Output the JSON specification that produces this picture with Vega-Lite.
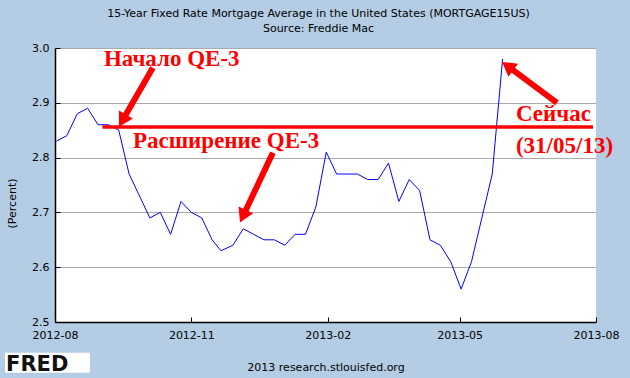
{
  "$schema": "https://vega.github.io/schema/vega-lite/v6.json",
  "width": 541,
  "height": 274,
  "autosize": "none",
  "padding": {"left": 55, "top": 48, "right": 34, "bottom": 56},
  "background": "#B4CDE4",
  "config": {"view": {"fill": "white", "stroke": null}, "font": "DejaVu Sans"},
  "title": {
    "text": ["15-Year Fixed Rate Mortgage Average in the United States (MORTGAGE15US)", "Source: Freddie Mac"],
    "fontSize": 11, "fontWeight": "normal", "font": "DejaVu Sans", "color": "#000000",
    "lineHeight": 15, "anchor": "middle", "frame": "group", "offset": 8, "dx": -7
  },
  "datasets": {
    "series": [
      {"date": "2012-08-02", "rate": 2.83},
      {"date": "2012-08-09", "rate": 2.84},
      {"date": "2012-08-16", "rate": 2.88},
      {"date": "2012-08-23", "rate": 2.89},
      {"date": "2012-08-30", "rate": 2.86},
      {"date": "2012-09-06", "rate": 2.86},
      {"date": "2012-09-13", "rate": 2.85},
      {"date": "2012-09-20", "rate": 2.77},
      {"date": "2012-09-27", "rate": 2.73},
      {"date": "2012-10-04", "rate": 2.69},
      {"date": "2012-10-11", "rate": 2.70},
      {"date": "2012-10-18", "rate": 2.66},
      {"date": "2012-10-25", "rate": 2.72},
      {"date": "2012-11-01", "rate": 2.70},
      {"date": "2012-11-08", "rate": 2.69},
      {"date": "2012-11-15", "rate": 2.65},
      {"date": "2012-11-21", "rate": 2.63},
      {"date": "2012-11-29", "rate": 2.64},
      {"date": "2012-12-06", "rate": 2.67},
      {"date": "2012-12-13", "rate": 2.66},
      {"date": "2012-12-20", "rate": 2.65},
      {"date": "2012-12-27", "rate": 2.65},
      {"date": "2013-01-03", "rate": 2.64},
      {"date": "2013-01-10", "rate": 2.66},
      {"date": "2013-01-17", "rate": 2.66},
      {"date": "2013-01-24", "rate": 2.71},
      {"date": "2013-01-31", "rate": 2.81},
      {"date": "2013-02-07", "rate": 2.77},
      {"date": "2013-02-14", "rate": 2.77},
      {"date": "2013-02-21", "rate": 2.77},
      {"date": "2013-02-28", "rate": 2.76},
      {"date": "2013-03-07", "rate": 2.76},
      {"date": "2013-03-14", "rate": 2.79},
      {"date": "2013-03-21", "rate": 2.72},
      {"date": "2013-03-28", "rate": 2.76},
      {"date": "2013-04-04", "rate": 2.74},
      {"date": "2013-04-11", "rate": 2.65},
      {"date": "2013-04-18", "rate": 2.64},
      {"date": "2013-04-25", "rate": 2.61},
      {"date": "2013-05-02", "rate": 2.56},
      {"date": "2013-05-09", "rate": 2.61},
      {"date": "2013-05-16", "rate": 2.69},
      {"date": "2013-05-23", "rate": 2.77},
      {"date": "2013-05-30", "rate": 2.98}
    ],
    "level": [
      {"start": "2012-09-02", "end": "2013-07-30", "rate": 2.856}
    ],
    "shafts": [
      {"date": "2012-10-06", "rate": 2.964, "date2": "2012-09-15T12:00:00Z", "rate2": 2.8675},
      {"date": "2012-12-26", "rate": 2.809, "date2": "2012-12-05T19:00:00Z", "rate2": 2.693},
      {"date": "2013-07-05T17:00:00Z", "rate": 2.900, "date2": "2013-06-02T10:00:00Z", "rate2": 2.967}
    ],
    "notes": [
      {"date": "2012-09-03", "rate": 2.968, "label": "Начало QE-3"},
      {"date": "2012-09-22T14:00:00Z", "rate": 2.8175, "label": "Расширение QE-3"},
      {"date": "2013-06-08", "rate": 2.866, "label": "Сейчас"},
      {"date": "2013-06-08", "rate": 2.808, "label": "(31/05/13)"}
    ],
    "logobox": [
      {"start": "2012-06-28T07:00:00Z", "end": "2012-08-24T14:00:00Z", "top": 2.444, "bottom": 2.4075}
    ],
    "logotext": [
      {"date": "2012-06-29", "rate": 2.411, "label": "FRED"}
    ]
  },
  "layer": [
    {
      "data": {"name": "series"},
      "mark": {"type": "line", "color": "#0000FF", "strokeWidth": 1, "interpolate": "linear"},
      "encoding": {
        "x": {
          "field": "date", "type": "temporal",
          "scale": {"type": "utc", "domain": [{"year": 2012, "month": 8, "date": 1, "utc": true}, {"year": 2013, "month": 8, "date": 1, "utc": true}]},
          "axis": {
            "title": "2013 research.stlouisfed.org",
            "titleFontWeight": "normal", "titleFontSize": 11, "titleFont": "DejaVu Sans", "titleColor": "#000000", "titlePadding": 21,
            "values": [
              {"year": 2012, "month": 8, "date": 1, "utc": true},
              {"year": 2012, "month": 11, "date": 1, "utc": true},
              {"year": 2013, "month": 2, "date": 1, "utc": true},
              {"year": 2013, "month": 5, "date": 1, "utc": true},
              {"year": 2013, "month": 8, "date": 1, "utc": true}
            ],
            "labelExpr": "utcFormat(datum.value, '%Y-%m')",
            "labelFontSize": 11, "labelFont": "DejaVu Sans", "labelColor": "#000000",
            "labelPadding": 12, "labelFlush": false, "labelOverlap": false,
            "tickSize": -5, "tickColor": "#000000", "domainColor": "#000000", "domainWidth": 1.5,
            "grid": false
          }
        },
        "y": {
          "field": "rate", "type": "quantitative",
          "scale": {"domain": [2.5, 3.0], "nice": false, "zero": false},
          "axis": {
            "title": "(Percent)", "titleFontWeight": "normal", "titleFontSize": 11, "titleFont": "DejaVu Sans", "titleColor": "#000000",
            "titlePadding": 14, "titleY": 155,
            "values": [2.5, 2.6, 2.7, 2.8, 2.9, 3.0], "format": ".1f",
            "labelFontSize": 11, "labelFont": "DejaVu Sans", "labelColor": "#000000",
            "labelPadding": 11, "labelFlush": false,
            "tickSize": -5, "tickColor": "#000000", "domainColor": "#000000", "domainWidth": 1.5,
            "grid": true, "gridColor": "#AAAAAA", "gridWidth": 1, "gridOpacity": 1
          }
        }
      }
    },
    {
      "data": {"name": "level"},
      "mark": {"type": "rule", "color": "#FF0000", "strokeWidth": 3.5},
      "encoding": {
        "x": {"field": "start", "type": "temporal"},
        "x2": {"field": "end"},
        "y": {"field": "rate", "type": "quantitative"}
      }
    },
    {
      "data": {"name": "shafts"},
      "mark": {"type": "rule", "color": "#FF0000", "strokeWidth": 6, "strokeCap": "butt"},
      "encoding": {
        "x": {"field": "date", "type": "temporal"},
        "x2": {"field": "date2"},
        "y": {"field": "rate", "type": "quantitative"},
        "y2": {"field": "rate2"}
      }
    },
    {
      "data": {"values": [{"date": "2012-09-15T12:00:00Z", "rate": 2.8675}]},
      "mark": {"type": "point", "shape": "triangle-up", "filled": true, "color": "#FF0000", "opacity": 1, "size": 260, "angle": 210},
      "encoding": {
        "x": {"field": "date", "type": "temporal"},
        "y": {"field": "rate", "type": "quantitative"}
      }
    },
    {
      "data": {"values": [{"date": "2012-12-05T19:00:00Z", "rate": 2.693}]},
      "mark": {"type": "point", "shape": "triangle-up", "filled": true, "color": "#FF0000", "opacity": 1, "size": 260, "angle": 205},
      "encoding": {
        "x": {"field": "date", "type": "temporal"},
        "y": {"field": "rate", "type": "quantitative"}
      }
    },
    {
      "data": {"values": [{"date": "2013-06-02T10:00:00Z", "rate": 2.967}]},
      "mark": {"type": "point", "shape": "triangle-up", "filled": true, "color": "#FF0000", "opacity": 1, "size": 260, "angle": 307},
      "encoding": {
        "x": {"field": "date", "type": "temporal"},
        "y": {"field": "rate", "type": "quantitative"}
      }
    },
    {
      "data": {"name": "notes"},
      "mark": {"type": "text", "font": "Liberation Serif", "fontWeight": "bold", "fontSize": 23, "color": "#FF0000", "align": "left", "baseline": "alphabetic"},
      "encoding": {
        "x": {"field": "date", "type": "temporal"},
        "y": {"field": "rate", "type": "quantitative"},
        "text": {"field": "label"}
      }
    },
    {
      "data": {"name": "logobox"},
      "mark": {"type": "rect", "color": "#FFFFFF"},
      "encoding": {
        "x": {"field": "start", "type": "temporal"},
        "x2": {"field": "end"},
        "y": {"field": "top", "type": "quantitative"},
        "y2": {"field": "bottom"}
      }
    },
    {
      "data": {"name": "logotext"},
      "mark": {"type": "text", "font": "DejaVu Sans", "fontWeight": "bold", "fontSize": 21, "color": "#111111", "align": "left", "baseline": "alphabetic"},
      "encoding": {
        "x": {"field": "date", "type": "temporal"},
        "y": {"field": "rate", "type": "quantitative"},
        "text": {"field": "label"}
      }
    }
  ]
}
